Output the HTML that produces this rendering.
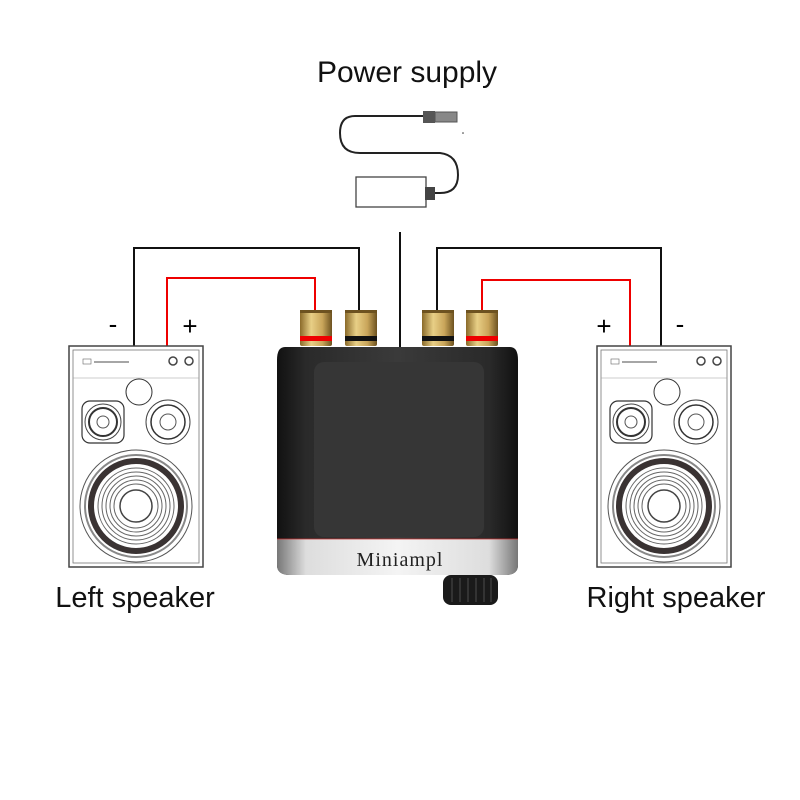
<!DOCTYPE html>
<html><head><meta charset="utf-8"><style>
html,body{margin:0;padding:0;background:#fff}
svg{display:block}
text{font-family:"Liberation Sans",sans-serif}
</style></head><body>
<svg width="800" height="800" viewBox="0 0 800 800" xmlns="http://www.w3.org/2000/svg">
<defs>
<linearGradient id="gold" x1="0" x2="1"><stop offset="0" stop-color="#8a6a2a"/><stop offset=".35" stop-color="#e8cf86"/><stop offset=".7" stop-color="#c9a55a"/><stop offset="1" stop-color="#6d5220"/></linearGradient>
<linearGradient id="body" x1="0" x2="1"><stop offset="0" stop-color="#111"/><stop offset=".12" stop-color="#2a2a2a"/><stop offset=".5" stop-color="#3a3a3a"/><stop offset=".88" stop-color="#2a2a2a"/><stop offset="1" stop-color="#111"/></linearGradient>
<linearGradient id="silver" x1="0" x2="1"><stop offset="0" stop-color="#777"/><stop offset=".12" stop-color="#ddd"/><stop offset=".5" stop-color="#f4f4f4"/><stop offset=".88" stop-color="#ddd"/><stop offset="1" stop-color="#777"/></linearGradient>
<g id="spk">
<rect x="0" y="0" width="134" height="221" fill="#fff" stroke="#444" stroke-width="1.5"/>
<rect x="4" y="4" width="126" height="213" fill="none" stroke="#777" stroke-width="0.8"/>
<line x1="4" y1="32" x2="130" y2="32" stroke="#999" stroke-width=".6"/>
<rect x="14" y="13" width="8" height="5" fill="none" stroke="#666" stroke-width=".6"/>
<line x1="25" y1="16" x2="60" y2="16" stroke="#888" stroke-width="1.5"/>
<circle cx="104" cy="15" r="4" fill="none" stroke="#444" stroke-width="1.5"/>
<circle cx="120" cy="15" r="4" fill="none" stroke="#444" stroke-width="1.5"/>
<circle cx="70" cy="46" r="13" fill="none" stroke="#333" stroke-width="1"/>
<rect x="13" y="55" width="42" height="42" rx="8" fill="none" stroke="#333" stroke-width="1.2"/>
<circle cx="34" cy="76" r="18" fill="none" stroke="#444" stroke-width="1"/>
<circle cx="34" cy="76" r="14" fill="none" stroke="#333" stroke-width="2"/>
<circle cx="34" cy="76" r="6" fill="none" stroke="#555" stroke-width="1"/>
<circle cx="99" cy="76" r="22" fill="none" stroke="#444" stroke-width="1"/>
<circle cx="99" cy="76" r="17" fill="none" stroke="#333" stroke-width="1.5"/>
<circle cx="99" cy="76" r="8" fill="none" stroke="#555" stroke-width="1"/>
<circle cx="67" cy="160" r="56" fill="none" stroke="#555" stroke-width="1"/>
<circle cx="67" cy="160" r="51" fill="none" stroke="#888" stroke-width="2"/>
<circle cx="67" cy="160" r="45" fill="none" stroke="#3a3333" stroke-width="6"/>
<circle cx="67" cy="160" r="38" fill="none" stroke="#666" stroke-width="1"/>
<circle cx="67" cy="160" r="34" fill="none" stroke="#666" stroke-width="1"/>
<circle cx="67" cy="160" r="30" fill="none" stroke="#666" stroke-width="1"/>
<circle cx="67" cy="160" r="26" fill="none" stroke="#666" stroke-width="1"/>
<circle cx="67" cy="160" r="22" fill="none" stroke="#666" stroke-width="1"/>
<circle cx="67" cy="160" r="16" fill="none" stroke="#444" stroke-width="1.5"/>
</g>
<g id="term">
<rect x="0" y="0" width="32" height="36" rx="2" fill="url(#gold)"/>
<rect x="0" y="0" width="32" height="3" fill="#6d5220"/>
</g>
</defs>

<text x="407" y="82" font-size="30" text-anchor="middle" fill="#111">Power  supply</text>

<path d="M423 116 H355 Q340 116 340 133 Q340 153 360 153 H440 Q458 155 458 175 Q458 193 440 193 H430" fill="none" stroke="#222" stroke-width="2"/>
<rect x="423" y="111" width="12" height="12" fill="#555"/>
<rect x="435" y="112" width="22" height="10" fill="#888" stroke="#555"/>
<circle cx="463" cy="133" r=".8" fill="#333"/>
<rect x="356" y="177" width="70" height="30" fill="#fff" stroke="#444" stroke-width="1.3"/>
<rect x="425" y="187" width="10" height="13" fill="#444"/>

<g fill="none" stroke-width="2">
<path d="M400 232 V347" stroke="#111"/>
<path d="M134 347 V248 H359 V312" stroke="#111"/>
<path d="M167 347 V278 H315 V312" stroke="#e00"/>
<path d="M437 312 V248 H661 V347" stroke="#111"/>
<path d="M482 312 V280 H630 V347" stroke="#e00"/>
</g>
<text x="113" y="333" font-size="26" text-anchor="middle">-</text>
<text x="190" y="335" font-size="26" text-anchor="middle">+</text>
<text x="604" y="335" font-size="26" text-anchor="middle">+</text>
<text x="680" y="333" font-size="26" text-anchor="middle">-</text>

<use href="#spk" x="69" y="346"/>
<use href="#spk" x="597" y="346"/>

<use href="#term" x="300" y="310"/>
<use href="#term" x="345" y="310"/>
<use href="#term" x="422" y="310"/>
<use href="#term" x="466" y="310"/>
<rect x="300" y="336" width="32" height="5" fill="#e00"/>
<rect x="466" y="336" width="32" height="5" fill="#e00"/>
<rect x="345" y="336" width="32" height="5" fill="#111"/>
<rect x="422" y="336" width="32" height="5" fill="#111"/>
<path d="M285 347 H510 Q518 347 518 360 V565 Q518 575 505 575 H290 Q277 575 277 565 V360 Q277 347 285 347 Z" fill="url(#body)"/>
<rect x="314" y="362" width="170" height="175" rx="10" fill="#363636"/>
<path d="M277 539 H518 V565 Q518 575 505 575 H290 Q277 575 277 565 Z" fill="url(#silver)"/>
<line x1="277" y1="539" x2="518" y2="539" stroke="#c33" stroke-width=".8"/>
<text x="400" y="566" font-size="20" text-anchor="middle" fill="#222" style="font-family:'Liberation Serif',serif;letter-spacing:1px">Miniampl</text>
<rect x="443" y="575" width="55" height="30" rx="8" fill="#1a1a1a"/>
<g stroke="#333" stroke-width="2"><line x1="452" y1="578" x2="452" y2="602"/><line x1="460" y1="578" x2="460" y2="602"/><line x1="468" y1="578" x2="468" y2="602"/><line x1="476" y1="578" x2="476" y2="602"/><line x1="484" y1="578" x2="484" y2="602"/><line x1="491" y1="578" x2="491" y2="602"/></g>

<text x="135" y="607" font-size="29" text-anchor="middle" fill="#111">Left speaker</text>
<text x="676" y="607" font-size="29" text-anchor="middle" fill="#111">Right speaker</text>
</svg>
</body></html>
